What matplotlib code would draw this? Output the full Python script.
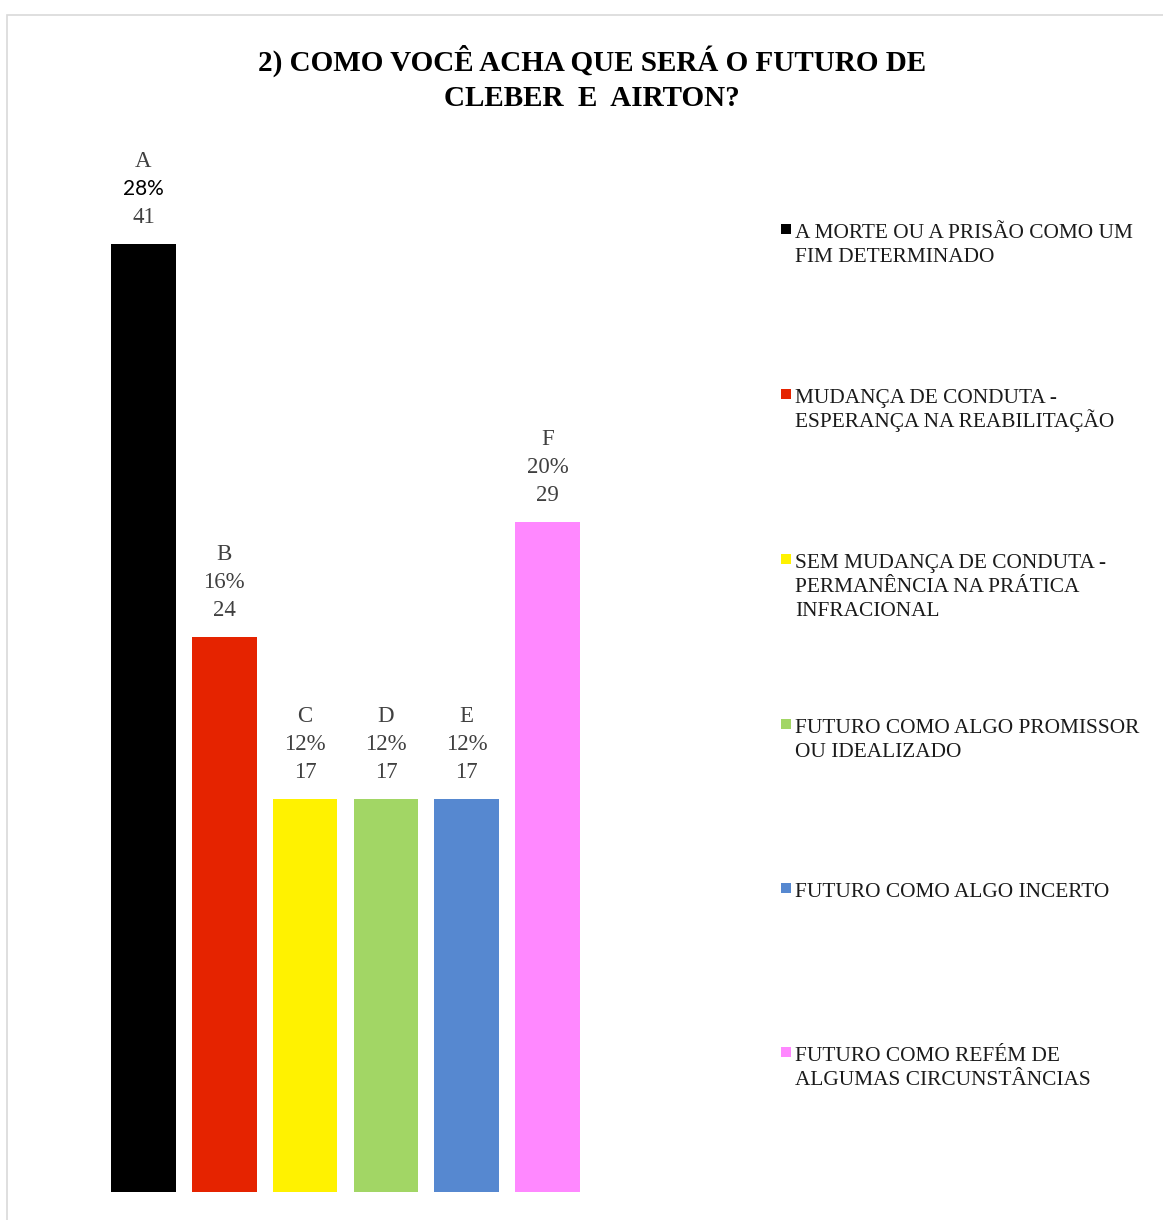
import matplotlib
matplotlib.use("Agg")
import matplotlib.pyplot as plt
from matplotlib.patches import Rectangle

letters = ["A", "B", "C", "D", "E", "F"]
counts = [41, 24, 17, 17, 17, 29]
percents = ["28%", "16%", "12%", "12%", "12%", "20%"]
colors = ["#000000", "#E52300", "#FFF200", "#A2D665", "#5688D0", "#FF88FF"]
legend_labels = [
    "A MORTE OU A PRISÃO COMO UM\nFIM DETERMINADO",
    "MUDANÇA DE CONDUTA -\nESPERANÇA NA REABILITAÇÃO",
    "SEM MUDANÇA DE CONDUTA -\nPERMANÊNCIA NA PRÁTICA\nINFRACIONAL",
    "FUTURO COMO ALGO PROMISSOR\nOU IDEALIZADO",
    "FUTURO COMO ALGO INCERTO",
    "FUTURO COMO REFÉM DE\nALGUMAS CIRCUNSTÂNCIAS",
]
title = "2) COMO VOCÊ ACHA QUE SERÁ O FUTURO DE\nCLEBER  E  AIRTON?"

W, H = 1163, 1220
fig = plt.figure(figsize=(W / 100, H / 100), dpi=100)

def fx(px):
    return px / W

def fy(py):
    return 1 - py / H

# chart border (light gray)
fig.add_artist(Rectangle((fx(7), fy(1225)), fx(1170), 1225 / H - 15 / H,
                         transform=fig.transFigure, fill=False,
                         edgecolor="#D9D9D9", linewidth=1.2))

# axes: x from -0.5..5.5 mapped to px 103..588, y 0..45
ax = fig.add_axes([fx(103), fy(1191.5), fx(588) - fx(103), (1191.5 - 152) / H])
ax.set_xlim(-0.5, 5.5)
ax.set_ylim(0, 45)
ax.axis("off")
x = list(range(len(counts)))
ax.bar(x, counts, width=0.8, color=colors)

serif = "Liberation Serif"
lab_col = "#404040"
for i, (l, c, p) in enumerate(zip(letters, counts, percents)):
    ax.annotate(str(c), (i, c), xytext=(0, 16), textcoords="offset pixels",
                ha="center", va="bottom", fontsize=16.5, family=serif, color=lab_col)
    if i == 0:
        ax.annotate(p, (i, c), xytext=(0, 45), textcoords="offset pixels",
                    ha="center", va="bottom", fontsize=15, family="Lato", color="#000000")
    else:
        ax.annotate(p, (i, c), xytext=(0, 44), textcoords="offset pixels",
                    ha="center", va="bottom", fontsize=16.5, family=serif, color=lab_col)
    ax.annotate(l, (i, c), xytext=(0, 72), textcoords="offset pixels",
                ha="center", va="bottom", fontsize=16.5, family=serif, color=lab_col)

# title
fig.text(fx(592), fy(78.5), title, ha="center", va="center", fontsize=21,
         fontweight="bold", family=serif, color="#000000", linespacing=1.38)

# legend (each line placed at fixed baseline spacing)
leg_y = [231, 396, 561, 726, 890, 1054]
line_step = 24.2
for yy, lab, col in zip(leg_y, legend_labels, colors):
    fig.add_artist(Rectangle((fx(781), fy(yy + 3)), fx(10), 10 / H,
                             transform=fig.transFigure, facecolor=col, edgecolor="none"))
    for k, line in enumerate(lab.split("\n")):
        fig.text(fx(795), fy(yy + 7 + k * line_step), line, ha="left", va="baseline",
                 fontsize=15.4, family=serif, color="#1A1A1A")

fig.savefig("out.png", dpi=100)
